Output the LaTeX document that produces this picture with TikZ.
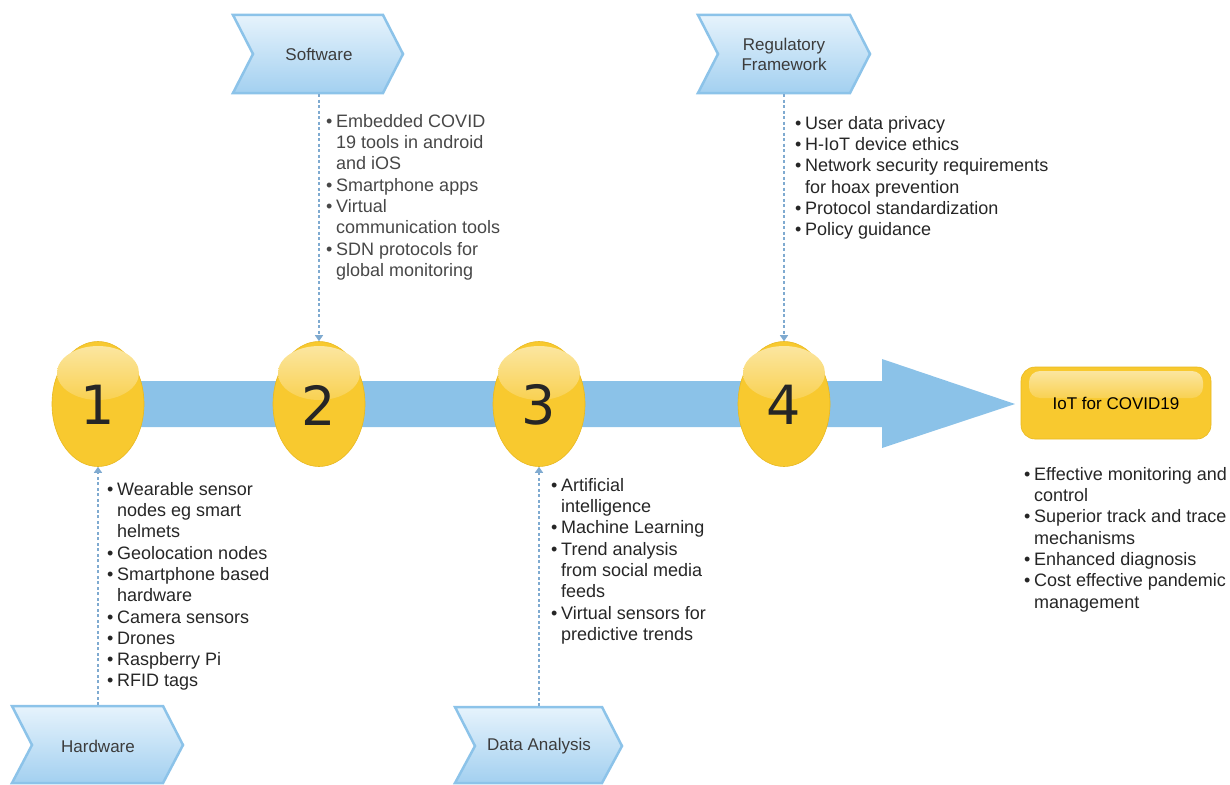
\documentclass[tikz,border=0pt]{standalone}
\usepackage{fontspec}
\setmainfont{Liberation Sans}
\newfontfamily\numfont{DejaVu Sans}
\usetikzlibrary{shapes.geometric,arrows.meta}
\definecolor{bandblue}{HTML}{8BC2E8}
\definecolor{chevtop}{HTML}{E6F3FC}
\definecolor{chevbot}{HTML}{A3D0F0}
\definecolor{chevline}{HTML}{8CC3E9}
\definecolor{gold}{HTML}{F8C92F}
\definecolor{goldline}{HTML}{E8B820}
\definecolor{glosstop}{HTML}{FBE6A0}
\definecolor{glossbot}{HTML}{F9D152}
\definecolor{dashblue}{HTML}{7FAAD0}
\definecolor{txt}{HTML}{262626}
\newcommand{\B}{\makebox[10pt][l]{\textbullet}}
\newcommand{\I}{\hspace*{10pt}}
\tikzset{
  chevbox/.style={top color=chevtop, bottom color=chevbot, draw=chevline, line width=2.5pt, line join=miter},
  chevlabel/.style={font=\fontsize{17}{20}\selectfont, text=txt!90, align=center, inner sep=0pt},
  ball/.style={ellipse, minimum width=92pt, minimum height=125pt, inner sep=0pt, fill=gold, draw=goldline, line width=0.6pt},
  gloss/.style={top color=glosstop, bottom color=glossbot},
  numtext/.style={font=\numfont\fontsize{54}{60}\selectfont, text=txt, inner sep=0pt},
  listtext/.style={font=\fontsize{18}{21.3}\selectfont, text=txt, align=left, inner sep=0pt, anchor=north west},
  link/.style={dashblue, dashed, dash pattern=on 3pt off 2.5pt, line width=1.3pt, -{Triangle[width=8pt,length=6pt]}},
}
\begin{document}
\begin{tikzpicture}[x=1pt,y=-1pt]
\useasboundingbox (0,0) rectangle (1230,784);

% main arrow
\fill[bandblue] (95,381) -- (882,381) -- (882,359) -- (1015,404) -- (882,448) -- (882,427) -- (95,427) -- cycle;

% chevrons
\path[chevbox] (233,15) -- (383,15) -- (403,54) -- (383,93) -- (233,93) -- (253,54) -- cycle;
\node[chevlabel] (sw) at (319,54) {Software};
\path[chevbox] (698,15) -- (850,15) -- (870,54) -- (850,93) -- (698,93) -- (718,54) -- cycle;
\node[chevlabel] (rf) at (784,54) {Regulatory\\Framework};
\path[chevbox] (12,706) -- (163,706) -- (183,745) -- (163,783) -- (12,783) -- (32,745) -- cycle;
\node[chevlabel] (hw) at (98,746) {Hardware};
\path[chevbox] (455,707) -- (602,707) -- (622,746) -- (602,783) -- (455,783) -- (475,746) -- cycle;
\node[chevlabel] (da) at (539,746) {Data Analysis};

\coordinate (swb) at (319,94);
\coordinate (rfb) at (784,94);
\coordinate (hwt) at (98,705);
\coordinate (dat) at (539,706);

% balls
\foreach \n/\x in {1/98,2/319,3/539,4/784}{
  \node[ball] (e\n) at (\x,404) {};
  \shade[gloss] (\x,373) ellipse [x radius=41, y radius=27];
  \node[numtext] (n\n) at (\x,405) {\n};
}

% result box
\node[draw=goldline, line width=0.6pt, fill=gold, rounded corners=14pt, minimum width=190pt, minimum height=72pt, inner sep=0pt] (iot) at (1116,403) {};
\shade[top color=glosstop, bottom color=glossbot, rounded corners=11pt] (1029,371) rectangle (1203,398);
\node[font=\fontsize{17}{20}\selectfont, text=black, inner sep=0pt] (iotl) at (1116,403) {IoT for COVID19};

% connectors
\draw[link] (swb) -- (e2.north);
\draw[link] (rfb) -- (e4.north);
\draw[link] (hwt) -- (e1.south);
\draw[link] (dat) -- (e3.south);

% lists
\node[listtext, text=txt!85] (swl) at (326,114) {\B Embedded COVID\\\I 19 tools in android\\\I and iOS\\\B Smartphone apps\\\B Virtual\\\I communication tools\\\B SDN protocols for\\\I global monitoring};
\node[listtext] (rfl) at (795,116) {\B User data privacy\\\B H-IoT device ethics\\\B Network security requirements\\\I for hoax prevention\\\B Protocol standardization\\\B Policy guidance};
\node[listtext] (hwl) at (107,482) {\B Wearable sensor\\\I nodes eg smart\\\I helmets\\\B Geolocation nodes\\\B Smartphone based\\\I hardware\\\B Camera sensors\\\B Drones\\\B Raspberry Pi\\\B RFID tags};
\node[listtext] (dal) at (551,478) {\B Artificial\\\I intelligence\\\B Machine Learning\\\B Trend analysis\\\I from social media\\\I feeds\\\B Virtual sensors for\\\I predictive trends};
\node[listtext] (iotlist) at (1024,467) {\B Effective monitoring and\\\I control\\\B Superior track and trace\\\I mechanisms\\\B Enhanced diagnosis\\\B Cost effective pandemic\\\I management};
\end{tikzpicture}
\end{document}
